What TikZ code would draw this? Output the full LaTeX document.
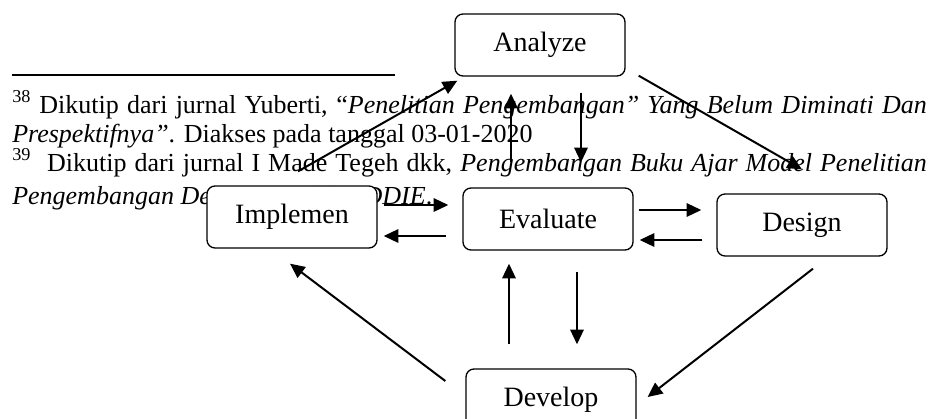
\documentclass[tikz,border=0pt]{standalone}
\usepackage{fontspec}
\setmainfont{Liberation Serif}
\usetikzlibrary{arrows.meta,calc}

\begin{document}
\begin{tikzpicture}[x=0.75pt,y=-0.75pt,
  box/.style={draw, line width=1pt, rounded corners=6pt, fill=white, minimum width=127.5pt, minimum height=46.5pt, font=\fontsize{21}{25}\selectfont},
  arr/.style={-{Triangle[length=11pt,width=10pt]}, line width=1.5pt},
  fn/.style={anchor=base west, inner sep=0pt, font=\fontsize{19.5}{23}\selectfont}]

\useasboundingbox (0,0) rectangle (936,418);

% footnotes behind the diagram
\draw[line width=1.6pt] (12,75) -- (395,75);
\node(fnA) at (12,113) [fn] {\makebox[686pt][s]{\textsuperscript{38} Dikutip dari jurnal Yuberti, “\textit{Penelitian Pengembangan” Yang Belum Diminati Dan}}};
\node(fnB) at (12,142) [fn] {\textit{Prespektifnya”}. Diakses pada tanggal 03-01-2020};
\node(fnC) at (12,171) [fn] {\makebox[686pt][s]{\textsuperscript{39}\ \ Dikutip dari jurnal I Made Tegeh dkk, \textit{Pengembangan Buku Ajar Model Penelitian}}};
\node(fnD) at (12,204) [fn] {\makebox[315pt][l]{\textit{Pengembangan Dengan Model}\hfill\textit{ADDIE}.}};

% ADDIE boxes
\node(ana) at (540,45) [box] {Analyze};
\node(impl) at (292,217) [box] {Implemen};
\node(eval) at (548,219) [box] {Evaluate};
\node(des) at (802,225) [box] {Design};
\node(dev) at (551,400) [box] {Develop};

\draw[arr] ($(impl.north)+(6,-14)$) to ($(ana.south west)+(3,4)$);
\draw[arr] ($(ana.south)+(41,16)$) to ($(eval.north)+(33,-25)$);
\draw[arr] ($(eval.north)+(-37,-25)$) to ($(ana.south)+(-29,17)$);
\draw[arr] ($(ana.south east)+(13,-1)$) to ($(des.north)+(0,-24)$);

\draw[arr] ($(impl.east)+(6,-12)$) to ($(eval.west)+(-14,-14)$);
\draw[arr] ($(eval.west)+(-16,17)$) to ($(impl.east)+(6,19)$);
\draw[arr] ($(eval.east)+(5,-9)$) to ($(des.west)+(-15,-15)$);
\draw[arr] ($(des.west)+(-14,15)$) to ($(eval.east)+(6,21)$);

\draw[arr] ($(des.south)+(11,12)$) to ($(dev.east)+(11,-3)$);
\draw[arr] ($(dev.west)+(-20,-19)$) to ($(impl.south)+(-2,15)$);
\draw[arr] ($(dev.north)+(-42,-24)$) to ($(eval.south)+(-39,13)$);
\draw[arr] ($(eval.south)+(29,21)$) to ($(dev.north)+(26,-24)$);

\end{tikzpicture}
\end{document}
